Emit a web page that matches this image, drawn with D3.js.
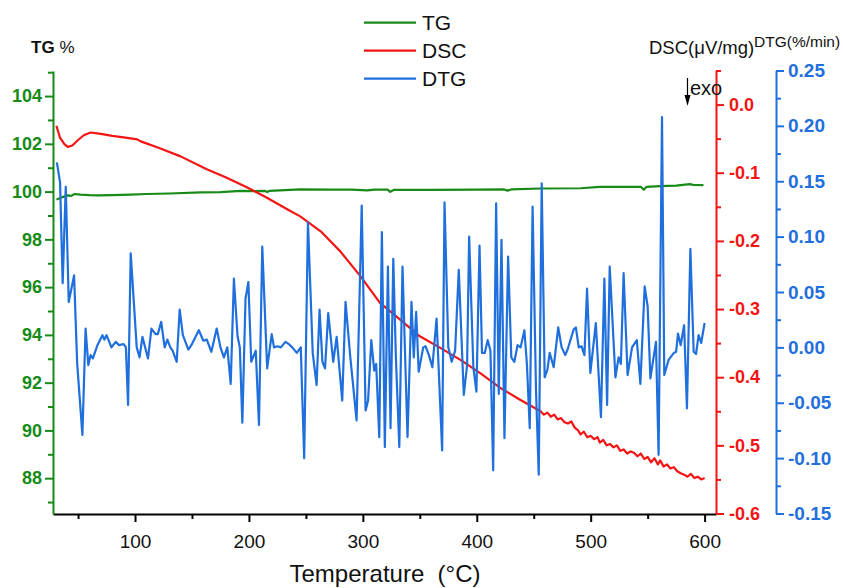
<!DOCTYPE html>
<html>
<head>
<meta charset="utf-8">
<script src="https://d3js.org/d3.v7.min.js"></script>
<style>
  body { margin: 0; background: #fff; }
  svg { display: block; font-family: "Liberation Sans", Arial, sans-serif; }
</style>
</head>
<body>
<svg id="chart"></svg>
<script>
// TG (%) vs temperature
var tgTemp = [31, 34, 37, 41, 44, 47, 52, 60, 67, 80, 96, 110, 130, 158, 175, 193, 205, 214, 216, 218,
  245, 270, 290, 304, 310, 322, 324, 327, 360, 400, 424, 427, 430, 456, 491, 508, 526, 544, 546.6, 549,
  561, 575, 587, 590, 599];
var tgVal = [99.67, 99.72, 99.78, 99.84, 99.82, 99.90, 99.87, 99.85, 99.84, 99.85, 99.87, 99.90, 99.92, 99.97, 99.98, 100.03, 100.02, 100.03, 99.98, 100.03,
  100.09, 100.08, 100.08, 100.05, 100.08, 100.08, 99.99, 100.07, 100.07, 100.08, 100.09, 100.04, 100.09, 100.13, 100.14, 100.2, 100.2, 100.2, 100.08, 100.2,
  100.23, 100.25, 100.31, 100.28, 100.27];

// DSC (uV/mg)
var dscTemp = [31, 34, 38, 41, 45, 50, 55, 61, 70, 80, 90, 102, 105, 120, 140, 163, 180, 199, 215, 234,
  245, 263, 280, 298, 315, 333, 350, 368, 386, 403, 421, 438, 456, 459, 462, 465, 468, 471, 474, 477,
  480, 483, 486, 489, 491, 494, 497, 500, 503, 506, 508, 511, 514, 517, 520, 523, 526, 529, 532, 535,
  538, 541, 544, 547, 550, 553, 556, 559, 561, 564, 567, 570, 573, 576, 579, 582, 585, 588, 591, 594, 597, 600];
var dscVal = [-0.031, -0.048, -0.058, -0.062, -0.060, -0.052, -0.045, -0.041, -0.043, -0.046, -0.048, -0.051, -0.054, -0.063, -0.076, -0.095, -0.107, -0.122, -0.136, -0.154,
  -0.164, -0.186, -0.215, -0.252, -0.291, -0.316, -0.340, -0.357, -0.375, -0.394, -0.416, -0.433, -0.450, -0.455, -0.452, -0.458, -0.455, -0.462, -0.460, -0.466,
  -0.468, -0.465, -0.474, -0.478, -0.484, -0.480, -0.488, -0.486, -0.491, -0.488, -0.496, -0.492, -0.500, -0.498, -0.503, -0.500, -0.508, -0.506, -0.512, -0.509,
  -0.511, -0.516, -0.512, -0.520, -0.517, -0.525, -0.519, -0.528, -0.522, -0.531, -0.528, -0.534, -0.532, -0.538, -0.541, -0.543, -0.546, -0.542, -0.548, -0.546, -0.550, -0.548];

// DTG (%/min)
var dtgTemp = [31.4, 34.2, 36.5, 39.2, 41.8, 46.5, 49.2, 53.8, 56.6, 59, 61, 63, 67, 71.4, 73, 75, 79.3, 83, 86, 90,
  92, 93.9, 96.2, 101.5, 104, 106.5, 111.4, 114.4, 118, 120, 123, 126, 128.4, 131, 133, 136.6, 139.2, 142, 146.8, 150,
  156, 160, 163, 167, 171.7, 175, 178, 181, 184, 186.8, 190, 192, 194.2, 197, 199.5, 202, 206, 208.8, 211.7, 216,
  220, 222, 225, 228, 232, 235, 238, 242, 245.5, 248.5, 251.8, 256, 259.4, 262, 264.5, 266.8, 269.6, 274, 277, 281.9,
  284.8, 289, 294.5, 299, 302.4, 304.6, 307.4, 310, 311.7, 314.4, 316.7, 319.3, 322, 324.3, 326.7, 329, 332, 334.8, 339.2, 342.7,
  344.7, 346.8, 349, 353, 355, 358, 361, 364.7, 369.6, 371.7, 375, 378, 381, 384.2, 388.6, 391.5, 393.3, 397, 399.7, 402.4,
  404.6, 407, 409.6, 412, 414.4, 417, 419.3, 421.7, 424.3, 427.5, 430.3, 433, 435.8, 438.5, 441.8, 444, 446.5, 449, 452, 454.4,
  457, 459.6, 462, 464, 467.5, 471.5, 474.5, 477.7, 480, 485, 487, 489.5, 492, 494.5, 496.8, 499.7, 504.5, 509, 512, 514.4,
  516.7, 521.7, 524.5, 526.5, 528.9, 532.4, 536.3, 540.5, 543.6, 547.4, 550, 552.4, 557.3, 559.6, 562.6, 564.6, 568.5, 573, 575, 576.6,
  579, 582, 584.5, 587.5, 590.4, 592.5, 594.7, 597, 600];
var dtgVal = [0.167, 0.149, 0.058, 0.145, 0.041, 0.065, -0.014, -0.079, 0.017, -0.016, -0.007, -0.010, 0.002, 0.011, 0.007, 0.011, 0.000, 0.005, 0.002, 0.003,
  0.000, -0.052, 0.085, 0.000, -0.009, 0.0095, -0.010, 0.017, 0.012, 0.012, 0.023, 0.000, 0.007, 0.000, -0.003, -0.013, 0.034, 0.011, -0.002, 0.003,
  0.0155, 0.006, 0.007, -0.004, 0.017, 0.000, -0.009, 0.000, -0.033, 0.062, 0.010, 0.000, -0.068, 0.044, 0.059, -0.013, -0.003, -0.070, 0.091, -0.019,
  0.012, 0.000, 0.001, 0.000, 0.005, 0.003, 0.000, -0.005, 0.000, -0.100, 0.113, -0.005, -0.034, 0.034, -0.013, -0.019, 0.031, -0.013, 0.0095, -0.048,
  0.041, -0.009, -0.066, 0.128, -0.057, -0.048, 0.0065, -0.021, -0.015, -0.081, 0.104, -0.090, 0.073, -0.073, 0.080, -0.009, -0.090, 0.073, -0.081, 0.041,
  -0.009, 0.032, -0.022, 0.000, 0.001, -0.007, -0.018, 0.026, -0.093, 0.131, 0.000, -0.013, -0.003, 0.070, -0.043, -0.016, 0.100, -0.018, -0.040, 0.092,
  -0.005, -0.005, 0.0065, -0.003, -0.111, 0.130, -0.042, 0.097, -0.082, 0.082, -0.009, -0.013, 0.002, 0.000, 0.0155, -0.015, -0.073, 0.127, -0.039, -0.115,
  0.148, -0.027, -0.020, -0.005, -0.018, 0.018, 0.000, -0.007, -0.001, 0.016, 0.018, 0.000, 0.001, -0.007, 0.053, -0.023, 0.022, -0.063, 0.062, -0.052,
  0.073, -0.027, -0.009, -0.015, 0.067, -0.025, 0.000, 0.0065, -0.033, 0.055, 0.037, -0.028, 0.005, -0.097, 0.208, -0.025, -0.011, -0.005, -0.004, 0.0125,
  0.002, 0.020, -0.055, 0.089, -0.004, -0.006, 0.011, 0.004, 0.022];

var xMajor = [100, 200, 300, 400, 500, 600];
var xMinor = [50, 150, 250, 350, 450, 550];
var tgMajor = [88, 90, 92, 94, 96, 98, 100, 102, 104];
var tgMinor = [87, 89, 91, 93, 95, 97, 99, 101, 103, 105];
var dscMajor = [-0.6, -0.5, -0.4, -0.3, -0.2, -0.1, 0.0];
var dscMinor = [-0.55, -0.45, -0.35, -0.25, -0.15, -0.05, 0.05];
var dtgMajor = [-0.15, -0.10, -0.05, 0.00, 0.05, 0.10, 0.15, 0.20, 0.25];
var dtgMinor = [-0.125, -0.075, -0.025, 0.025, 0.075, 0.125, 0.175, 0.225];
var seriesNames = ["TG", "DSC", "DTG"];

var width = 843, height = 588;
var green = "#178a17", red = "#f41414", blue = "#1f6fdc";

var svg = d3.select("#chart").attr("width", width).attr("height", height);

var x = d3.scaleLinear().domain([28, 610]).range([53, 716]);
var yTG = d3.scaleLinear().domain([86.5, 105.05]).range([514, 71]);
var yDSC = d3.scaleLinear().domain([-0.6, 0.05]).range([513.5, 70.5]);
var yDTG = d3.scaleLinear().domain([-0.15, 0.25]).range([513.5, 70.5]);

function styleAxis(g, color, sw) {
  g.select(".domain").attr("stroke", color).attr("stroke-width", sw);
  g.selectAll(".tick line").attr("stroke", color).attr("stroke-width", sw);
}

// x axis
var gx = svg.append("g").attr("transform", "translate(0,514)");
gx.call(d3.axisBottom(x).tickValues(xMajor).tickSize(8).tickSizeOuter(0));
styleAxis(gx, "#000", 2);
gx.selectAll("text").attr("y", 34).attr("dy", 0).attr("fill", "#111")
  .attr("font-size", 19).attr("font-family", "Liberation Sans, Arial, sans-serif");
var gxm = svg.append("g").attr("transform", "translate(0,514)");
gxm.call(d3.axisBottom(x).tickValues(xMinor).tickSize(5).tickFormat(""));
gxm.select(".domain").remove();
gxm.selectAll(".tick line").attr("stroke", "#000").attr("stroke-width", 2);

// TG axis (left)
var gl = svg.append("g").attr("transform", "translate(53,0)");
gl.call(d3.axisLeft(yTG).tickValues(tgMajor).tickSize(8).tickSizeOuter(0).tickPadding(3));
styleAxis(gl, green, 2);
gl.selectAll("text").attr("fill", green).attr("font-size", 18).attr("font-weight", "bold")
  .attr("font-family", "Liberation Sans, Arial, sans-serif");
var glm = svg.append("g").attr("transform", "translate(53,0)");
glm.call(d3.axisLeft(yTG).tickValues(tgMinor).tickSize(5).tickFormat(""));
glm.select(".domain").remove();
glm.selectAll(".tick line").attr("stroke", green).attr("stroke-width", 2);

// DSC axis (right)
var gr = svg.append("g").attr("transform", "translate(716,0)");
gr.call(d3.axisRight(yDSC).tickValues(dscMajor).tickSize(8).tickSizeOuter(0).tickPadding(5));
styleAxis(gr, red, 2);
gr.selectAll("text").attr("fill", red).attr("font-size", 18).attr("font-weight", "bold")
  .attr("font-family", "Liberation Sans, Arial, sans-serif").text(function(d) { return d3.format(".1f")(d).replace("−", "-"); });
var grm = svg.append("g").attr("transform", "translate(716,0)");
grm.call(d3.axisRight(yDSC).tickValues(dscMinor).tickSize(5).tickFormat(""));
grm.select(".domain").remove();
grm.selectAll(".tick line").attr("stroke", red).attr("stroke-width", 2);

// DTG axis (far right)
var gb = svg.append("g").attr("transform", "translate(776,0)");
gb.call(d3.axisRight(yDTG).tickValues(dtgMajor).tickSize(8).tickSizeOuter(0).tickPadding(4));
styleAxis(gb, blue, 2);
gb.selectAll("text").attr("fill", blue).attr("font-size", 19).attr("font-weight", "bold")
  .attr("font-family", "Liberation Sans, Arial, sans-serif").text(function(d) { return d3.format(".2f")(d).replace("−", "-"); });
var gbm = svg.append("g").attr("transform", "translate(776,0)");
gbm.call(d3.axisRight(yDTG).tickValues(dtgMinor).tickSize(5).tickFormat(""));
gbm.select(".domain").remove();
gbm.selectAll(".tick line").attr("stroke", blue).attr("stroke-width", 2);

// series
var tgData = tgTemp.map(function(t, i) { return [t, tgVal[i]]; });
var dscData = dscTemp.map(function(t, i) { return [t, dscVal[i]]; });
var dtgData = dtgTemp.map(function(t, i) { return [t, dtgVal[i]]; });

svg.append("path").datum(tgData)
  .attr("fill", "none").attr("stroke", green).attr("stroke-width", 2.2).attr("stroke-linejoin", "round")
  .attr("d", d3.line().x(d => x(d[0])).y(d => yTG(d[1])));
svg.append("path").datum(dscData)
  .attr("fill", "none").attr("stroke", red).attr("stroke-width", 2.2).attr("stroke-linejoin", "round")
  .attr("d", d3.line().x(d => x(d[0])).y(d => yDSC(d[1])));
svg.append("path").datum(dtgData)
  .attr("fill", "none").attr("stroke", blue).attr("stroke-width", 2.2).attr("stroke-linejoin", "round")
  .attr("d", d3.line().x(d => x(d[0])).y(d => yDTG(d[1])));

// legend
var legend = svg.append("g");
var legColors = [green, red, blue];
seriesNames.forEach(function(name, i) {
  var yy = 22.7 + i * 28;
  legend.append("line").attr("x1", 364).attr("x2", 416).attr("y1", yy).attr("y2", yy)
    .attr("stroke", legColors[i]).attr("stroke-width", 2.2);
  legend.append("text").attr("x", 422).attr("y", yy + 7.5).attr("font-size", 21).attr("fill", "#111").text(name);
});

// axis titles
var tgTitle = svg.append("text").attr("x", 31).attr("y", 53).attr("font-size", 17).attr("fill", "#111");
tgTitle.append("tspan").attr("font-weight", "bold").text("TG");
tgTitle.append("tspan").attr("dx", 5).text("%");

svg.append("text").attr("x", 649).attr("y", 54).attr("font-size", 18.5).attr("fill", "#111").text("DSC(μV/mg)");
svg.append("text").attr("x", 754).attr("y", 47).attr("font-size", 15.5).attr("fill", "#111").text("DTG(%/min)");

svg.append("text").attr("x", 385).attr("y", 582).attr("text-anchor", "middle").attr("font-size", 24)
  .attr("fill", "#111").style("white-space", "pre").text("Temperature  (°C)");

// exo arrow
svg.append("line").attr("x1", 687.5).attr("x2", 687.5).attr("y1", 78).attr("y2", 97)
  .attr("stroke", "#000").attr("stroke-width", 1.2);
svg.append("path").attr("d", "M684.5,95 L690.5,95 L687.5,106 Z").attr("fill", "#000");
svg.append("text").attr("x", 690).attr("y", 95).attr("font-size", 20).attr("fill", "#111").text("exo");
</script>
</body>
</html>
